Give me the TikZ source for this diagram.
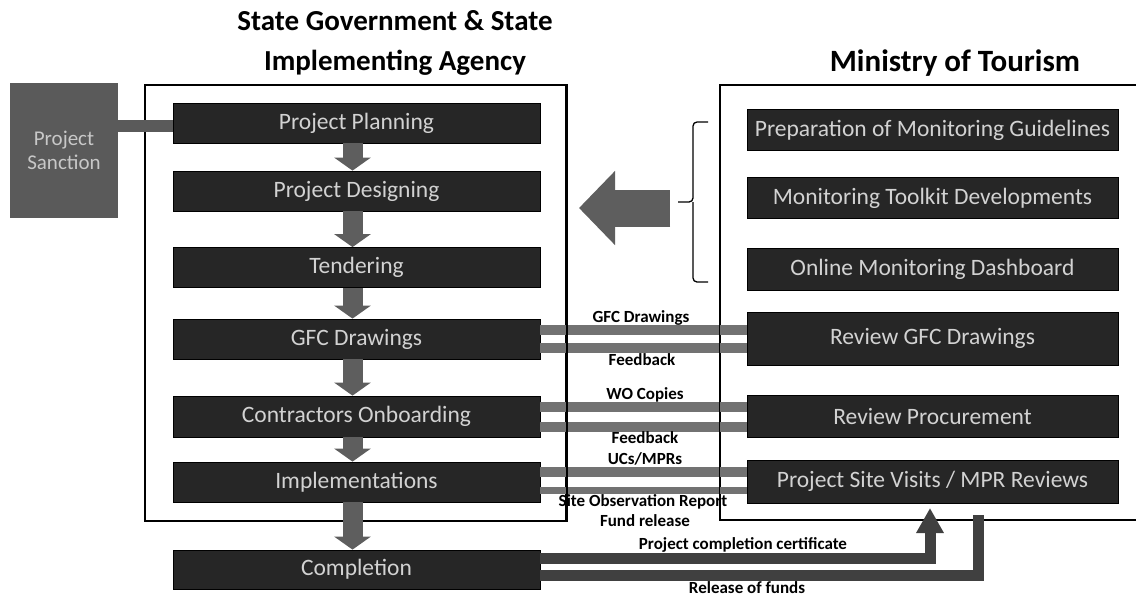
\documentclass[tikz,border=0pt]{standalone}
\usepackage{fontspec}
\setmainfont{Carlito}
\usetikzlibrary{arrows.meta,calc}
\definecolor{boxdark}{HTML}{262626}
\definecolor{boxtext}{HTML}{D2D2D2}
\definecolor{arrgray}{HTML}{5E5E5E}
\definecolor{bargray}{HTML}{727272}
\definecolor{darkbar}{HTML}{404040}
\definecolor{sanctgray}{HTML}{5A5A5A}
\definecolor{sancttext}{HTML}{C8C8C8}
\begin{document}
\begin{tikzpicture}[x=1pt,y=-1pt,
  stage/.style={draw=black, line width=0.8pt, fill=boxdark, text=boxtext,
    font=\fontsize{23.5}{27}\selectfont, inner sep=0pt, minimum width=367pt, minimum height=40pt},
  mon/.style={stage, minimum width=371pt, minimum height=41pt},
  frame/.style={draw=black, line width=1.5pt, inner sep=0pt},
  flowarrow/.style={line width=20pt, draw=arrgray, -{Triangle[width=36pt,length=13pt]}},
  bar/.style={line width=10pt, draw=bargray},
  thickbar/.style={line width=11pt, draw=darkbar},
  lbl/.style={font=\bfseries\fontsize{17}{19}\selectfont, inner sep=0pt, text=black},
  title/.style={font=\bfseries\fontsize{29}{40}\selectfont, align=center, inner sep=0pt}]
\useasboundingbox[fill=white] (0,0) rectangle (1136,598);

% titles
\node[title] (t1) at (395,43) {State Government \& State\\Implementing Agency};
\node[title, font=\bfseries\fontsize{31}{40}\selectfont] (t2) at (955,63) {Ministry of Tourism};

% frames (nodes)
\node[frame, minimum width=421pt, minimum height=436pt] (lframe) at (355.5,303) {};
\node[frame, minimum width=418pt, minimum height=435pt] (rframe) at (929,302.5) {};

% left stages
\node[stage] (plan)   at (356.5,123)   {Project Planning};
\node[stage] (design) at (356.5,191)   {Project Designing};
\node[stage] (tender) at (356.5,267.5) {Tendering};
\node[stage] (gfc)    at (356.5,339)   {GFC Drawings};
\node[stage, minimum height=41pt] (contr)  at (356.5,416.5) {Contractors Onboarding};
\node[stage] (impl)   at (356.5,482)   {Implementations};
\node[stage, minimum height=39pt] (compl)  at (356.5,569.5) {Completion};

% right boxes
\node[mon] (prep)    at (932.5,130)   {Preparation of Monitoring Guidelines};
\node[mon] (toolkit) at (932.5,198)   {Monitoring Toolkit Developments};
\node[mon, minimum height=42pt] (online)  at (932.5,269)   {Online Monitoring Dashboard};
\node[mon, minimum height=53pt] (revgfc)  at (932.5,338.5) {Review GFC Drawings};
\node[mon, minimum height=42pt] (revproc) at (932.5,416)   {Review Procurement};
\node[mon, minimum height=43pt] (site)    at (932.5,481.5) {Project Site Visits / MPR Reviews};

% project sanction
\node[fill=sanctgray, text=sancttext, minimum width=108pt, minimum height=135pt, inner sep=0pt,
  align=center, font=\fontsize{21}{24}\selectfont] (sanction) at (64,150.5) {Project\\Sanction};
\draw[line width=12pt, draw=sanctgray] ($(sanction.east |- plan.west)+(0,3)$) coordinate (sb) -- (sb -| plan.west);

% horizontal exchange bars
\draw[bar] ($(gfc.east)+(0,-9.5)$) coordinate (g1) -- (g1 -| revgfc.west);
\draw[bar] ($(gfc.east)+(0,9)$) coordinate (g2) -- (g2 -| revgfc.west);
\draw[bar] ($(contr.east)+(0,-10)$) coordinate (c1) -- (c1 -| revproc.west);
\draw[bar] ($(contr.east)+(0,10.5)$) coordinate (c2) -- (c2 -| revproc.west);
\draw[bar] ($(impl.east)+(0,-10)$) coordinate (i1) -- (i1 -| site.west);
\draw[bar, line width=7pt] ($(impl.east)+(0,8)$) coordinate (i2) -- (i2 -| site.west);

% redraw frame verticals over bars
\draw[line width=1.5pt] (lframe.north east) -- (lframe.south east);
\draw[line width=1.5pt] (rframe.north west) -- (rframe.south west);

% labels
\node[lbl] at (641,318) {GFC Drawings};
\node[lbl] at (642,360) {Feedback};
\node[lbl] at (645,395) {WO Copies};
\node[lbl] at (645,438) {Feedback};
\node[lbl] at (645,459) {UCs/MPRs};
\node[lbl] at (643,502) {Site Observation Report};
\node[lbl] at (645,521) {Fund release};
\node[lbl] at (743,545) {Project completion certificate};
\node[lbl] at (747,588) {Release of funds};

% downward flow arrows
\draw[flowarrow] ($(plan.south)+(-4,0)$) -- ($(design.north)+(-4,0)$);
\draw[flowarrow] ($(design.south)+(-4,0)$) -- ($(tender.north)+(-4,0)$);
\draw[flowarrow] ($(tender.south)+(-4,0)$) -- ($(gfc.north)+(-4,0)$);
\draw[flowarrow] ($(gfc.south)+(-4,0)$) -- ($(contr.north)+(-4,0)$);
\draw[flowarrow] ($(contr.south)+(-4,0)$) -- ($(impl.north)+(-4,0)$);
\draw[flowarrow] ($(impl.south)+(-4,0)$) -- ($(compl.north)+(-4,0)$);

% brace and big arrow
\draw[line width=1.3pt, rounded corners=4pt] (708,122) -- (693,122) -- (693,202) -- (678,202)
  (693,202) -- (693,282) -- (708,282);
\coordinate (bigtail) at (670,208);
\coordinate (bigtip) at (579,208);
\draw[line width=37pt, draw=arrgray, -{Triangle[width=72pt,length=36pt]}] (bigtail) -- (bigtip);

% bottom connectors
\coordinate (certend) at (930,508);
\draw[thickbar, -{Triangle[width=26pt,length=25pt]}] ($(compl.east)+(0,-11)$) -| (certend);
\coordinate (fundstart) at (978,515);
\draw[thickbar] (fundstart) |- ($(compl.east)+(0,6)$);
\end{tikzpicture}
\end{document}
